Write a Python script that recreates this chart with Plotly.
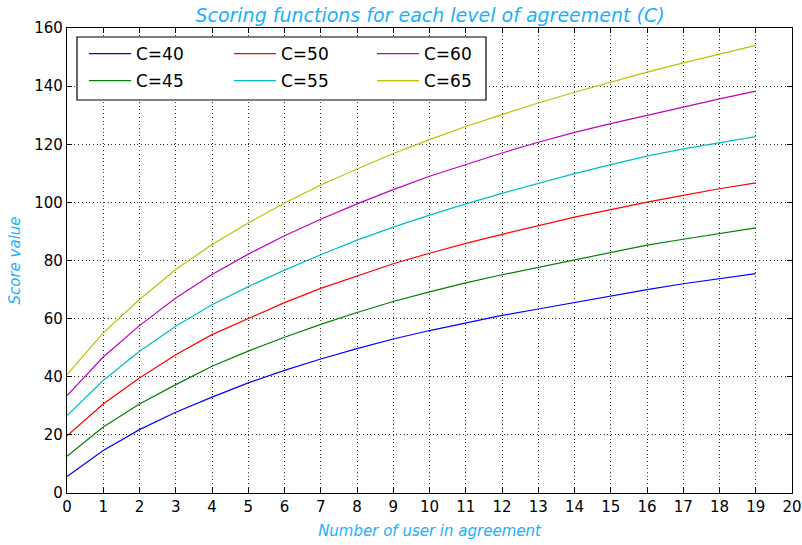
import plotly.graph_objects as go

x_users = list(range(20))

c_labels = ["C=40", "C=45", "C=50", "C=55", "C=60", "C=65"]
c40 = [5.7, 14.6, 21.8, 27.8, 33.0, 37.9, 42.2, 46.1, 49.7, 53.0, 55.9, 58.6, 61.1, 63.3, 65.6, 67.9, 70.0, 72.0, 73.8, 75.5]
c45 = [12.6, 22.7, 30.6, 37.3, 43.6, 48.8, 53.6, 58.0, 62.1, 65.9, 69.2, 72.3, 75.1, 77.7, 80.3, 82.9, 85.3, 87.3, 89.3, 91.2]
c50 = [19.7, 30.6, 39.6, 47.6, 54.5, 60.1, 65.5, 70.4, 74.7, 78.9, 82.5, 85.9, 89.0, 92.0, 94.9, 97.5, 100.1, 102.4, 104.7, 106.7]
c55 = [26.6, 38.7, 48.8, 57.4, 64.8, 71.0, 76.7, 82.0, 87.0, 91.5, 95.6, 99.5, 103.1, 106.6, 109.9, 113.0, 115.9, 118.4, 120.5, 122.6]
c60 = [33.5, 46.8, 57.6, 67.1, 75.2, 82.2, 88.5, 94.2, 99.5, 104.4, 109.0, 113.1, 117.0, 120.7, 124.1, 127.1, 130.0, 132.8, 135.6, 138.3]
c65 = [40.7, 55.1, 66.6, 76.9, 85.5, 92.9, 99.8, 106.0, 111.5, 116.8, 121.6, 126.1, 130.2, 134.2, 137.9, 141.4, 144.8, 148.0, 151.1, 154.0]
series = [c40, c45, c50, c55, c60, c65]
colors = ["#0000ff", "#008000", "#ff0000", "#00bfbf", "#bf00bf", "#bfbf00"]

x_ticks = list(range(0, 21))
y_ticks = list(range(0, 161, 20))

accent = "#1ab0ff"
font_family = "DejaVu Sans"

legend_ids = ["legend", "legend2", "legend3", "legend4", "legend5", "legend6"]

fig = go.Figure()
for name, vals, col, lg in zip(c_labels, series, colors, legend_ids):
    fig.add_trace(go.Scatter(
        x=x_users, y=vals, mode="lines", name=name,
        line=dict(color=col, width=1.2),
        legend=lg,
    ))

W = 725.0
H = 465.0
def px_x(p):
    return (p - 67) / W
def px_y(p):
    return (493 - p) / H

leg_common = dict(
    orientation="v", xanchor="left", yanchor="middle",
    bgcolor="rgba(0,0,0,0)", borderwidth=0,
    font=dict(family=font_family, size=17, color="black"),
    itemwidth=42,
)
col_x = [84, 84, 229, 229, 372, 372]
row_y = [54, 81, 54, 81, 54, 81]
legend_layouts = {
    lg: dict(x=px_x(cx), y=px_y(ry), **leg_common)
    for lg, cx, ry in zip(legend_ids, col_x, row_y)
}

fig.update_layout(
    width=802, height=545,
    margin=dict(l=67, r=10, t=28, b=52, autoexpand=False),
    paper_bgcolor="white", plot_bgcolor="white",
    font=dict(family=font_family, size=15, color="black"),
    title=dict(
        text="Scoring functions for each level of agreement (C)",
        x=px_x(430), xref="paper", xanchor="center",
        y=1 - 15 / 545, yref="container", yanchor="middle",
        font=dict(family=font_family, size=19, color=accent, style="italic"),
    ),
    shapes=[dict(
        type="rect", xref="paper", yref="paper",
        x0=px_x(77), x1=px_x(486), y0=px_y(100), y1=px_y(37),
        fillcolor="white", line=dict(color="black", width=1.2), layer="above",
    )],
    showlegend=True,
    **legend_layouts,
)

grid_style = dict(showgrid=True, gridcolor="#333333", griddash="1px,2.7px", gridwidth=1)

fig.update_xaxes(
    range=[0, 20], tickvals=x_ticks, ticktext=[str(v) for v in x_ticks],
    showline=True, linecolor="black", linewidth=1.2, mirror="allticks",
    ticks="inside", ticklen=5, tickcolor="black",
    zeroline=False, automargin=False,
    tickfont=dict(family=font_family, size=15, color="black"),
    title=dict(text="Number of user in agreement", standoff=10,
               font=dict(family=font_family, size=15, color=accent, style="italic")),
    **grid_style,
)
fig.update_yaxes(
    range=[0, 160], tickvals=y_ticks, ticktext=[str(v) for v in y_ticks],
    showline=True, linecolor="black", linewidth=1.2, mirror="allticks",
    ticks="inside", ticklen=5, tickcolor="black",
    zeroline=False, automargin=False,
    tickfont=dict(family=font_family, size=15, color="black"),
    title=dict(text="Score value", standoff=10,
               font=dict(family=font_family, size=15, color=accent, style="italic")),
    **grid_style,
)

fig.write_html(
    "out.html",
    config={"displayModeBar": False},
    post_script="document.body.style.margin='0px';",
)
